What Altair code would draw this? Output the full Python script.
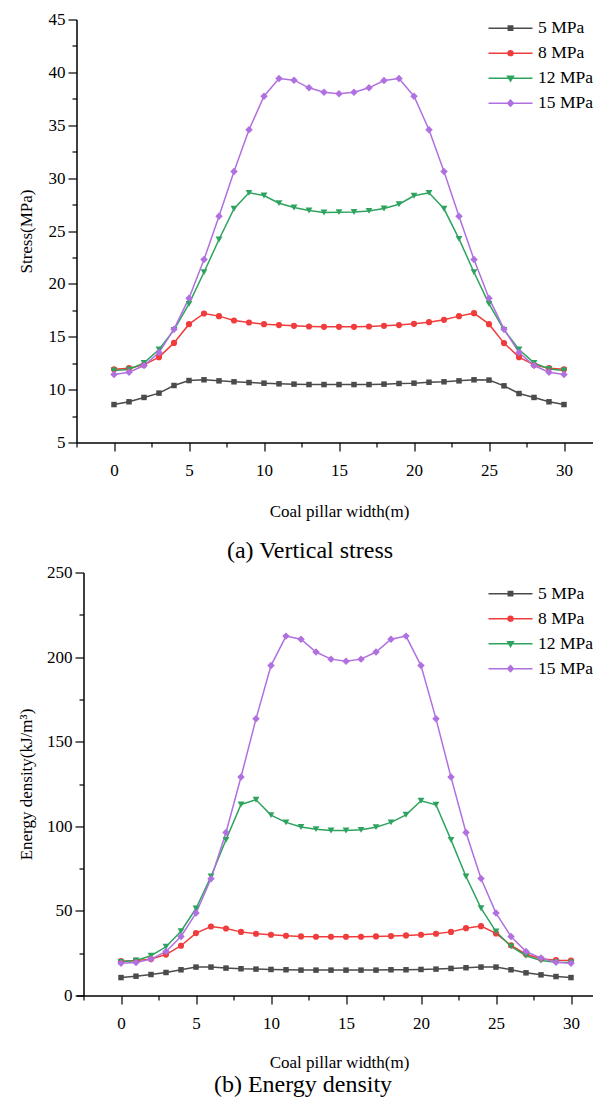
import altair as alt
import pandas as pd

# ---------------- data ----------------
x_vals = list(range(31))
series = ["5 MPa", "8 MPa", "12 MPa", "15 MPa"]
colors = ["#4b4b4b", "#f03c3c", "#2ea35f", "#b070e0"]
markers = ["square", "circle", "triangle-down", "diamond"]
marker_sizes = [30, 38, 46, 56]
# legend symbols: a line with a small marker in the middle
legend_paths = [
    "M-1,0H1M-0.1,-0.1H0.1V0.1H-0.1Z",
    "M-1,0H1M-0.11,0A0.11,0.11 0 1,0 0.11,0A0.11,0.11 0 1,0 -0.11,0Z",
    "M-1,0H1M-0.13,-0.09L0.13,-0.09L0,0.13Z",
    "M-1,0H1M0,-0.14L0.13,0L0,0.14L-0.13,0Z",
]

stress_5 = [8.59, 8.85, 9.26, 9.67, 10.39, 10.86, 10.93, 10.83, 10.74, 10.67, 10.61,
            10.55, 10.52, 10.48, 10.48, 10.48, 10.48, 10.48, 10.52, 10.58, 10.61,
            10.70, 10.74, 10.83, 10.93, 10.90, 10.36, 9.63, 9.26, 8.85, 8.59]
stress_8 = [11.93, 12.03, 12.34, 13.07, 14.42, 16.19, 17.20, 16.95, 16.54, 16.35, 16.19,
            16.10, 16.03, 15.97, 15.94, 15.94, 15.94, 15.97, 16.03, 16.10, 16.22,
            16.38, 16.60, 16.95, 17.23, 16.19, 14.40, 13.07, 12.34, 12.03, 11.93]
stress_12 = [11.81, 11.90, 12.53, 13.80, 15.65, 18.11, 21.10, 24.20, 27.10, 28.61, 28.36,
             27.63, 27.22, 26.94, 26.75, 26.78, 26.80, 26.90, 27.13, 27.53, 28.33,
             28.61, 27.10, 24.26, 21.10, 18.11, 15.65, 13.80, 12.53, 11.95, 11.81]
stress_15 = [11.43, 11.65, 12.28, 13.51, 15.72, 18.65, 22.30, 26.40, 30.63, 34.57, 37.75,
             39.42, 39.26, 38.54, 38.13, 37.97, 38.13, 38.54, 39.23, 39.42, 37.75,
             34.57, 30.63, 26.40, 22.30, 18.65, 15.72, 13.51, 12.28, 11.65, 11.43]

energy_5 = [10.6, 11.4, 12.4, 13.6, 15.2, 16.8, 16.8, 16.2, 15.8, 15.6, 15.4,
            15.2, 15.0, 15.0, 15.0, 15.0, 15.0, 15.0, 15.2, 15.2, 15.4,
            15.6, 16.0, 16.4, 16.8, 16.8, 15.2, 13.4, 12.2, 11.2, 10.6]
energy_8 = [20.3, 20.7, 21.5, 24.2, 29.4, 36.9, 40.8, 39.6, 37.6, 36.5, 35.9,
            35.3, 34.9, 34.7, 34.7, 34.7, 34.7, 34.9, 35.1, 35.5, 35.9,
            36.5, 37.6, 39.8, 41.0, 36.7, 29.6, 24.4, 21.7, 20.9, 20.7]
energy_12 = [19.9, 20.7, 23.5, 28.8, 38.0, 51.4, 70.3, 92.0, 112.9, 115.7, 106.6,
             102.3, 99.6, 98.3, 97.5, 97.5, 97.9, 99.5, 102.3, 106.8, 115.1,
             112.7, 92.0, 70.3, 51.6, 37.8, 29.0, 23.5, 20.7, 19.7, 19.5]
energy_15 = [19.1, 19.5, 21.5, 26.0, 34.9, 48.7, 69.0, 96.3, 129.1, 163.5, 195.0,
             212.4, 210.6, 203.0, 198.8, 197.6, 198.8, 203.0, 210.6, 212.4, 195.0,
             163.5, 129.1, 96.3, 69.1, 48.7, 34.9, 26.0, 22.1, 19.7, 19.1]

x_ticks_top = [-2.5 + 2.5 * i for i in range(15)]     # -2.5 .. 32.5
x_ticks_bottom = [-2.5 + 2.5 * i for i in range(14)]  # -2.5 .. 30
y_ticks_stress = [5 + 2.5 * i for i in range(17)]     # 5 .. 45
y_ticks_energy = [25 * i for i in range(11)]          # 0 .. 250

FONT = "Liberation Serif"


def long_df(cols):
    rows = []
    for name, vals in zip(series, cols):
        for xv, yv in zip(x_vals, vals):
            rows.append({"x": xv, "y": yv, "series": name})
    return pd.DataFrame(rows)


def panel(df, width, axis_shift, xdom, xticks, ydom, yticks, ymajor, ytitle, title_x,
          title_pad, caption, caption_dx, caption_offset, legend_x, legend_y):
    height = 423
    x_enc = alt.X(
        "x:Q",
        scale=alt.Scale(domain=xdom, nice=False, zero=False),
        axis=alt.Axis(
            values=xticks,
            title="Coal pillar width(m)",
            labelExpr="datum.value % 5 === 0 ? datum.label : ''",
            tickSize={"condition": {"test": "datum.value % 5 !== 0", "value": 4.5}, "value": 8.5},
            labelPadding=11,
            titlePadding=title_pad,
            labelFlush=False,
            labelOverlap=False,
        ),
    )
    y_enc = alt.Y(
        "y:Q",
        scale=alt.Scale(domain=ydom, nice=False, zero=False),
        axis=alt.Axis(
            values=yticks,
            title=ytitle,
            offset=-axis_shift,
            labelExpr=f"datum.value % {ymajor} === 0 ? datum.label : ''",
            tickSize={"condition": {"test": f"datum.value % {ymajor} !== 0", "value": 4.5}, "value": 8.5},
            labelPadding=3,
            titleX=title_x,
            titleY=height / 2,
            titleAngle=-90,
            titleBaseline="middle",
            titleAlign="center",
            labelFlush=False,
            labelOverlap=False,
        ),
    )
    # colour scale for the drawn marks (reversed order so it is kept apart from the legend scales)
    color_enc = alt.Color("series:N",
                          scale=alt.Scale(domain=series[::-1], range=colors[::-1]),
                          legend=None)
    base = alt.Chart(df).encode(x=x_enc, y=y_enc)

    lines = base.mark_line(strokeWidth=1.5).encode(color=color_enc)
    layers = [lines]
    for name, shp, sz in zip(series, markers, marker_sizes):
        layers.append(
            base.transform_filter(alt.datum.series == name)
            .mark_point(shape=shp, filled=True, size=sz, opacity=1)
            .encode(color=color_enc)
        )

    leg = alt.Legend(
        title=None,
        orient="none",
        legendX=legend_x,
        legendY=legend_y,
        labelFont=FONT,
        labelFontSize=17.5,
        labelColor="black",
        symbolSize=1936,
        symbolStrokeWidth=1.5,
        symbolOpacity=1,
        labelOffset=4.5,
        clipHeight=24.3,
        rowPadding=0,
        padding=0,
    )
    legend_layer = base.transform_filter("false").mark_point(filled=True, opacity=1).encode(
        fill=alt.Fill("series:N", scale=alt.Scale(domain=series, range=colors), legend=leg),
        stroke=alt.Stroke("series:N", scale=alt.Scale(domain=series, range=colors), legend=leg),
        shape=alt.Shape("series:N", scale=alt.Scale(domain=series, range=legend_paths), legend=leg),
    )
    layers.append(legend_layer)

    return alt.layer(*layers).properties(
        width=width,
        height=height,
        title=alt.TitleParams(
            caption,
            orient="bottom",
            anchor="middle",
            dx=caption_dx,
            offset=caption_offset,
            baseline="top",
            font=FONT,
            fontSize=24,
            fontWeight="normal",
            color="black",
        ),
    )


top = panel(long_df([stress_5, stress_8, stress_12, stress_15]),
            525, 0, [-2.5, 32.5], x_ticks_top, [5, 45], y_ticks_stress, 5,
            "Stress(MPa)", -50, 25.3, "(a) Vertical stress", -29, 19.5, 411, -3.5)
# lower panel: its y axis sits 7 px further right (x = -2.5 lies 7 px inside the frame)
bottom = panel(long_df([energy_5, energy_8, energy_12, energy_15]),
               525, 7, [-2.5 - 7 / 15, 32.5 - 7 / 15], x_ticks_bottom, [0, 250], y_ticks_energy, 50,
               "Energy density(kJ/m³)", -57, 23.6, "(b) Energy density", -36, 2, 411, 9)

chart = alt.concat(top, bottom, columns=1, spacing=0, align="none").resolve_scale(
    color="independent", fill="independent", stroke="independent", shape="independent"
).resolve_legend(
    fill="independent", stroke="independent", shape="independent"
).properties(
    padding={"left": 9.5, "top": 2.5, "right": -9.5, "bottom": 0}
).configure_axis(
    labelFont=FONT,
    labelFontSize=17,
    titleFont=FONT,
    titleFontSize=17,
    titleFontWeight="normal",
    labelColor="black",
    titleColor="black",
    domainColor="black",
    tickColor="black",
    domainWidth=1.5,
    tickWidth=1.2,
    grid=False,
).configure_view(stroke=None)

chart.save("out.html", embed_options={"renderer": "svg", "actions": False})
